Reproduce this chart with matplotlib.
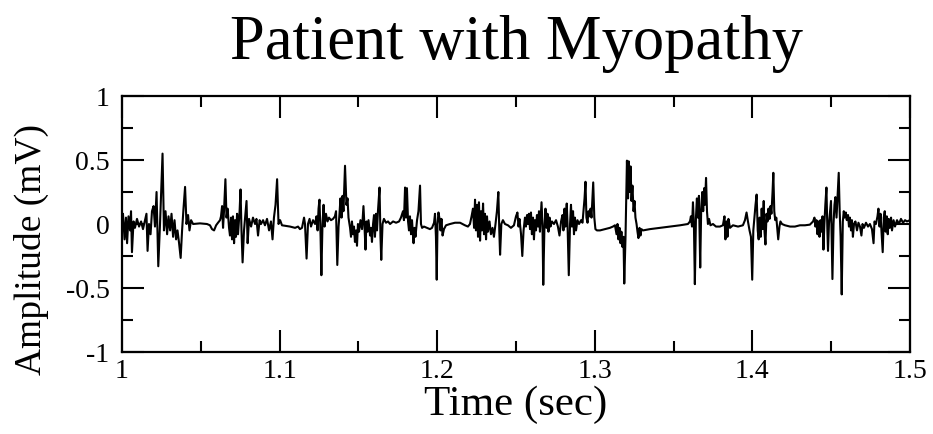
import matplotlib
matplotlib.use("Agg")
import matplotlib.pyplot as plt
from matplotlib.ticker import MultipleLocator

plt.rcParams['font.family'] = ['Liberation Serif', 'DejaVu Serif']

# EMG trace (seconds, mV)
time_s = [
    1.0000, 1.0006, 1.0016, 1.0025, 1.0032, 1.0041, 1.0051, 1.0057, 1.0063, 1.0073,
    1.0082, 1.0095, 1.0108, 1.0121, 1.0133, 1.0146, 1.0155, 1.0162, 1.0171, 1.0181,
    1.0190, 1.0200, 1.0209, 1.0219, 1.0230, 1.0241, 1.0257, 1.0266, 1.0276, 1.0286,
    1.0295, 1.0305, 1.0314, 1.0324, 1.0333, 1.0343, 1.0352, 1.0362, 1.0372, 1.0381,
    1.0390, 1.0400, 1.0409, 1.0419, 1.0428, 1.0438, 1.0451, 1.0495, 1.0539, 1.0558,
    1.0571, 1.0584, 1.0597, 1.0609, 1.0622,
    1.0628, 1.0635, 1.0641, 1.0647, 1.0656, 1.0663, 1.0670, 1.0679, 1.0685, 1.0692,
    1.0698, 1.0704, 1.0711, 1.0717, 1.0723, 1.0730, 1.0736, 1.0746, 1.0752, 1.0758,
    1.0765, 1.0774, 1.0781, 1.0790, 1.0797, 1.0806, 1.0819, 1.0831, 1.0844, 1.0853,
    1.0863, 1.0873, 1.0882, 1.0895, 1.0907, 1.0920, 1.0933, 1.0945, 1.0955, 1.0964,
    1.0974, 1.0984, 1.0993, 1.1003, 1.1015, 1.1066, 1.1098, 1.1117, 1.1129, 1.1142,
    1.1155, 1.1161, 1.1171, 1.1180, 1.1190, 1.1199, 1.1212, 1.1225, 1.1234, 1.1241,
    1.1247, 1.1253, 1.1260, 1.1265, 1.1272, 1.1279, 1.1285, 1.1294, 1.1304, 1.1313,
    1.1326, 1.1339, 1.1351, 1.1358, 1.1366, 1.1374, 1.1380, 1.1386, 1.1393, 1.1399,
    1.1405, 1.1415, 1.1424, 1.1431, 1.1437, 1.1447, 1.1453, 1.1459, 1.1466, 1.1472,
    1.1478, 1.1485, 1.1491, 1.1497, 1.1504, 1.1513, 1.1523, 1.1532, 1.1539, 1.1545,
    1.1551, 1.1558, 1.1564, 1.1574, 1.1580, 1.1586, 1.1593, 1.1599, 1.1605, 1.1612,
    1.1618, 1.1624, 1.1634, 1.1640, 1.1645, 1.1653, 1.1662, 1.1675, 1.1688, 1.1701,
    1.1720, 1.1739, 1.1758, 1.1770, 1.1783, 1.1789, 1.1796, 1.1802, 1.1808, 1.1815,
    1.1821, 1.1827, 1.1834, 1.1840, 1.1850, 1.1856, 1.1862, 1.1872, 1.1881, 1.1891,
    1.1897, 1.1904, 1.1916, 1.1935, 1.1954, 1.1967, 1.1980, 1.1986, 1.1992, 1.1997,
    1.2002, 1.2008, 1.2015, 1.2021, 1.2027, 1.2034, 1.2043, 1.2056, 1.2081, 1.2113,
    1.2145, 1.2176, 1.2195, 1.2208, 1.2218, 1.2227, 1.2234, 1.2240, 1.2246, 1.2253,
    1.2259, 1.2265, 1.2272, 1.2278, 1.2284, 1.2291, 1.2297, 1.2303, 1.2310, 1.2316,
    1.2322, 1.2332, 1.2341, 1.2351, 1.2360, 1.2370, 1.2379, 1.2388, 1.2394, 1.2399,
    1.2407, 1.2417, 1.2430, 1.2449, 1.2468, 1.2487, 1.2500, 1.2509, 1.2516, 1.2522,
    1.2532, 1.2540, 1.2548, 1.2557, 1.2563, 1.2570, 1.2576, 1.2582, 1.2589, 1.2595,
    1.2601, 1.2608, 1.2614, 1.2620, 1.2627, 1.2633, 1.2640, 1.2646, 1.2652, 1.2662,
    1.2668, 1.2673, 1.2680, 1.2687, 1.2694, 1.2700, 1.2706, 1.2713, 1.2719, 1.2728,
    1.2741, 1.2754, 1.2766, 1.2776, 1.2786, 1.2795, 1.2801, 1.2808, 1.2814, 1.2822,
    1.2827, 1.2835, 1.2843, 1.2849, 1.2855, 1.2862, 1.2868, 1.2874, 1.2881, 1.2890,
    1.2900, 1.2913, 1.2922, 1.2928, 1.2935, 1.2941, 1.2947, 1.2954, 1.2960, 1.2966,
    1.2973, 1.2979, 1.2985, 1.2990, 1.2997, 1.3004, 1.3014, 1.3033, 1.3065, 1.3096,
    1.3115, 1.3128, 1.3138, 1.3144, 1.3150, 1.3157, 1.3163, 1.3169, 1.3176, 1.3182,
    1.3187, 1.3195, 1.3201, 1.3204, 1.3211, 1.3215, 1.3220, 1.3227, 1.3233, 1.3239,
    1.3246, 1.3252, 1.3258, 1.3265, 1.3271, 1.3277, 1.3284, 1.3290, 1.3296, 1.3306,
    1.3350, 1.3414, 1.3477, 1.3541, 1.3591, 1.3604, 1.3610, 1.3617, 1.3623, 1.3629,
    1.3635, 1.3642, 1.3648, 1.3654, 1.3661, 1.3669, 1.3675, 1.3682, 1.3688, 1.3694,
    1.3699, 1.3706, 1.3712, 1.3718, 1.3725, 1.3734, 1.3750, 1.3769, 1.3794, 1.3813,
    1.3823, 1.3829, 1.3836, 1.3842, 1.3848, 1.3858, 1.3877, 1.3909, 1.3940, 1.3953,
    1.3963, 1.3972, 1.3982, 1.3991, 1.3999, 1.4006, 1.4013, 1.4020, 1.4027, 1.4034,
    1.4040, 1.4046, 1.4053, 1.4059, 1.4065, 1.4072, 1.4077, 1.4083, 1.4090, 1.4096,
    1.4102, 1.4109, 1.4115, 1.4121, 1.4128, 1.4133, 1.4139, 1.4145, 1.4152, 1.4158,
    1.4164, 1.4172, 1.4178, 1.4188, 1.4207, 1.4239, 1.4270, 1.4302, 1.4334, 1.4365,
    1.4385, 1.4394, 1.4400, 1.4407, 1.4413, 1.4419, 1.4426, 1.4432, 1.4438, 1.4445,
    1.4451, 1.4457, 1.4463, 1.4470, 1.4476, 1.4480, 1.4486, 1.4493, 1.4499, 1.4508,
    1.4515, 1.4521, 1.4527, 1.4534, 1.4540, 1.4548, 1.4554, 1.4560, 1.4567, 1.4574,
    1.4580, 1.4586, 1.4593, 1.4599, 1.4607, 1.4613, 1.4619, 1.4626, 1.4632, 1.4638,
    1.4645, 1.4654, 1.4664, 1.4673, 1.4683, 1.4692, 1.4699, 1.4708, 1.4721, 1.4734,
    1.4746, 1.4759, 1.4769, 1.4775, 1.4784, 1.4794, 1.4800, 1.4807, 1.4813, 1.4819,
    1.4827, 1.4834, 1.4840, 1.4846, 1.4853, 1.4859, 1.4865, 1.4872, 1.4880, 1.4886,
    1.4896, 1.4905, 1.4918, 1.4930, 1.4943, 1.4956, 1.4969, 1.4981, 1.5000,
]

amplitude_mv = [
    0.00, 0.08, -0.12, 0.05, -0.15, 0.06, -0.05, 0.10, -0.22, 0.02,
    -0.03, 0.04, -0.02, 0.02, -0.04, 0.03, 0.08, -0.21, 0.00, -0.08,
    0.10, 0.14, -0.02, 0.25, -0.33, 0.00, 0.55, -0.05, 0.10, -0.08,
    0.06, -0.05, 0.08, -0.10, 0.03, -0.12, -0.05, -0.15, -0.265, -0.05,
    0.12, 0.29, 0.00, 0.07, -0.05, 0.03, 0.00, 0.005, 0.00, -0.01,
    -0.04, -0.05, -0.01, 0.01, 0.03,
    0.06, 0.14, -0.03, 0.10, 0.35, 0.05, 0.12, -0.03, -0.09, 0.05,
    -0.12, 0.06, -0.15, 0.03, -0.10, 0.08, -0.08, 0.10, 0.27, -0.05,
    -0.30, -0.05, 0.05, 0.18, -0.15, 0.04, -0.02, 0.05, 0.00, 0.04,
    -0.09, 0.03, 0.00, 0.03, -0.01, 0.04, -0.05, 0.02, -0.12, 0.05,
    0.15, 0.35, 0.00, 0.03, -0.01, -0.02, -0.03, -0.02, -0.04, -0.03,
    0.05, 0.00, -0.27, 0.00, 0.04, -0.02, 0.03, 0.00, 0.06, -0.05,
    0.12, 0.19, -0.10, -0.40, 0.00, 0.15, -0.02, 0.08, 0.02, 0.05,
    0.03, 0.04, 0.06, 0.10, -0.32, -0.02, 0.08, 0.20, 0.05, 0.22,
    0.10, 0.455, 0.15, 0.20, 0.05, -0.03, -0.10, 0.02, -0.08, -0.02,
    -0.14, -0.05, -0.17, 0.00, -0.06, 0.03, -0.04, 0.14, -0.03, -0.20,
    0.02, -0.06, 0.03, -0.09, -0.03, -0.14, 0.00, 0.07, -0.10, 0.08,
    -0.05, 0.10, 0.285, -0.10, -0.28, 0.00, 0.04, 0.01, 0.02, 0.00,
    0.02, 0.01, 0.02, 0.05, 0.10, 0.03, 0.285, 0.05, 0.28, 0.02,
    -0.05, 0.06, -0.08, 0.03, -0.15, -0.03, -0.10, 0.03, 0.10, 0.30,
    0.00, -0.03, -0.02, -0.03, -0.04, -0.03, 0.01, 0.08, -0.10, -0.435,
    0.00, 0.09, 0.04, -0.05, 0.04, -0.09, -0.04, -0.01, 0.00, 0.01,
    0.01, -0.01, -0.02, 0.00, 0.06, 0.12, -0.03, 0.19, -0.05, 0.15,
    -0.10, 0.17, -0.13, 0.10, -0.05, 0.16, -0.08, 0.08, -0.12, 0.06,
    -0.06, 0.02, -0.08, -0.03, -0.10, 0.00, 0.10, 0.25, -0.05, -0.24,
    0.00, 0.03, 0.00, -0.01, -0.03, -0.01, 0.06, 0.09, -0.02, 0.04,
    -0.08, -0.25, -0.05, 0.05, -0.02, 0.07, 0.00, 0.08, -0.04, 0.09,
    -0.08, 0.05, -0.12, 0.03, -0.05, 0.07, -0.02, 0.10, -0.06, 0.17,
    0.00, -0.475, -0.05, 0.12, -0.03, 0.08, -0.06, 0.05, -0.02, 0.02,
    0.00, 0.03, -0.02, -0.09, 0.02, 0.07, -0.05, 0.12, -0.02, 0.16,
    0.00, -0.40, 0.00, 0.15, -0.02, 0.10, -0.08, 0.05, -0.05, 0.03,
    0.00, 0.03, 0.01, 0.10, 0.20, 0.33, 0.05, 0.01, 0.10, 0.06,
    0.12, 0.05, 0.20, 0.325, 0.05, -0.04, -0.05, -0.05, -0.04, -0.03,
    -0.02, -0.01, -0.08, 0.00, -0.12, -0.03, -0.15, -0.06, -0.18, -0.10,
    -0.465, -0.10, 0.30, 0.495, 0.20, 0.49, 0.25, 0.45, 0.18, 0.30,
    0.10, 0.18, 0.05, 0.00, -0.06, -0.11, -0.03, -0.09, -0.04, -0.05,
    -0.04, -0.03, -0.02, -0.01, 0.00, 0.02, 0.06, -0.02, 0.17, 0.00,
    -0.47, 0.05, 0.20, 0.05, 0.22, -0.34, 0.10, 0.25, 0.10, 0.28,
    0.15, 0.36, 0.10, 0.00, 0.04, -0.01, 0.00, -0.02, -0.02, -0.01,
    0.06, -0.12, 0.02, -0.10, 0.04, -0.03, -0.01, -0.02, -0.01, 0.03,
    0.09, 0.02, -0.05, -0.10, -0.435, -0.05, 0.05, 0.15, 0.23, -0.05,
    -0.12, 0.05, -0.10, 0.12, -0.04, 0.18, -0.06, -0.16, 0.08, 0.02,
    0.12, 0.04, 0.14, 0.08, 0.25, 0.40, 0.10, 0.03, 0.05, -0.04,
    -0.12, -0.02, 0.02, 0.00, -0.01, -0.02, -0.02, -0.01, -0.01, -0.005,
    0.02, 0.05, -0.02, 0.03, -0.08, 0.02, -0.10, 0.03, -0.06, 0.06,
    -0.20, 0.00, 0.15, 0.285, -0.05, -0.21, 0.00, 0.10, 0.18, -0.43,
    0.00, 0.15, 0.21, 0.05, 0.20, 0.40, 0.10, -0.10, -0.55, 0.02,
    0.10, 0.05, 0.09, 0.03, 0.07, -0.02, 0.05, -0.05, 0.03, -0.10,
    0.00, 0.02, -0.05, 0.01, -0.02, -0.09, 0.00, -0.03, 0.01, -0.02,
    0.00, -0.04, -0.15, 0.02, 0.00, 0.06, 0.12, -0.02, 0.08, -0.05,
    -0.22, 0.05, 0.10, -0.06, 0.06, -0.08, 0.04, -0.03, 0.05, -0.05,
    0.03, -0.02, 0.03, 0.00, 0.04, 0.01, 0.03, 0.02, 0.03,
]

x_ticks = [1.0, 1.1, 1.2, 1.3, 1.4, 1.5]
x_tick_labels = ['1', '1.1', '1.2', '1.3', '1.4', '1.5']
y_ticks = [-1, -0.5, 0, 0.5, 1]
y_tick_labels = ['-1', '-0.5', '0', '0.5', '1']

fig = plt.figure(figsize=(9.33, 4.34), dpi=100)
ax = fig.add_axes([0.1308, 0.1889, 0.8445, 0.5899])

ax.plot(time_s, amplitude_mv, color='black', lw=1.5)

ax.set_xlim(1.0, 1.5)
ax.set_ylim(-1, 1)
ax.set_xticks(x_ticks)
ax.set_xticklabels(x_tick_labels)
ax.set_yticks(y_ticks)
ax.set_yticklabels(y_tick_labels)
ax.xaxis.set_minor_locator(MultipleLocator(0.05))
ax.yaxis.set_minor_locator(MultipleLocator(0.25))

ax.tick_params(which='both', direction='in', top=True, right=True, width=1.5, labelsize=20)
ax.tick_params(which='major', length=16)
ax.tick_params(which='minor', length=8)
ax.tick_params(axis='y', pad=9)
ax.tick_params(axis='x', pad=5)
for sp in ax.spines.values():
    sp.set_linewidth(1.6)

ax.set_xlabel('Time (sec)', fontsize=31, labelpad=1)
ax.set_ylabel('Amplitude (mV)', fontsize=27, va='center')
ax.yaxis.set_label_coords(-0.115, 0.40)
fig.text(0.5536, 0.898, 'Patient with Myopathy', fontsize=45, ha='center', va='center')

fig.savefig('out.png', dpi=100)
